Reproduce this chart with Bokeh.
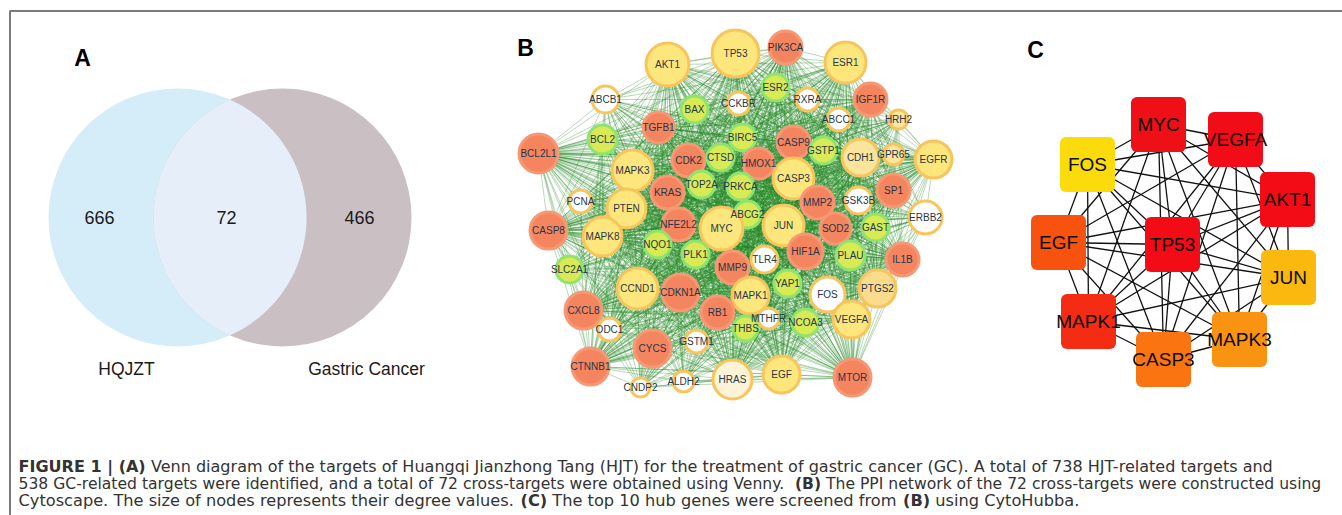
import numpy as np
from bokeh.plotting import figure
from bokeh.models import Range1d, ColumnDataSource
from bokeh.core.properties import value
from bokeh.embed import file_html
from bokeh.resources import INLINE

# ---------------- data ----------------
# Panel A: Venn diagram
venn_sets = ["HQJZT", "Gastric Cancer"]
venn_only = [666, 466]
venn_shared = 72

# Panel B: PPI network of the 72 cross-targets (layout)
ppi_genes = ["AKT1", "TP53", "PIK3CA", "ESR1", "ABCB1", "BAX", "CCKBR", "ESR2", "RXRA", "IGF1R",
             "ABCC1", "HRH2", "TGFB1", "BCL2", "BIRC5", "BCL2L1", "CASP9", "GSTP1", "CDH1", "GPR65",
             "EGFR", "CDK2", "CTSD", "HMOX1", "MAPK3", "KRAS", "TOP2A", "PRKCA", "CASP3", "SP1",
             "MMP2", "GSK3B", "PCNA", "PTEN", "NFE2L2", "ABCG2", "JUN", "SOD2", "GAST", "ERBB2",
             "CASP8", "MAPK8", "MYC", "NQO1", "PLK1", "TLR4", "HIF1A", "PLAU", "IL1B", "SLC2A1",
             "MMP9", "YAP1", "FOS", "PTGS2", "CCND1", "CDKN1A", "MAPK1", "CXCL8", "RB1", "THBS",
             "MTHFR", "NCOA3", "VEGFA", "ODC1", "GSTM1", "CYCS", "CTNNB1", "CNDP2", "ALDH2", "HRAS",
             "EGF", "MTOR"]
ppi_x = [667, 735, 785, 845, 605, 694, 738, 775, 807, 870,
         838, 898, 658, 602, 742, 538, 793, 823, 860, 893,
         933, 688, 720, 758, 632, 667, 701, 740, 793, 893,
         817, 858, 580, 626, 678, 747, 783, 835, 875, 925,
         548, 602, 721, 657, 695, 764, 805, 850, 902, 569,
         732, 787, 827, 877, 637, 680, 750, 583, 717, 745,
         768, 805, 851, 609, 696, 652, 590, 640, 683, 732,
         781, 852]
ppi_y = [64, 53, 47, 62, 99, 109, 103, 87, 99, 99,
         119, 119, 127, 139, 137, 153, 142, 150, 157, 154,
         159, 160, 157, 163, 170, 192, 184, 186, 178, 190,
         202, 200, 201, 208, 224, 214, 225, 228, 227, 217,
         230, 236, 228, 244, 254, 259, 251, 255, 259, 269,
         267, 283, 294, 288, 288, 292, 295, 310, 312, 328,
         318, 322, 319, 329, 341, 348, 366, 387, 381, 379,
         374, 377]
ppi_size = [23, 25, 18, 22, 15, 15, 13, 15, 13, 18,
            13, 11, 17, 16, 15, 21, 18, 15, 20, 12,
            20, 18, 15, 17, 22, 18, 15, 15, 22, 18,
            18, 15, 13, 21, 18, 15, 22, 17, 15, 18,
            20, 21, 23, 15, 15, 15, 19, 16, 18, 15,
            18, 15, 19, 20, 22, 20, 20, 20, 18, 14,
            12, 15, 20, 13, 13, 20, 20, 11, 12, 21,
            20, 20]
ppi_class = ["Y", "Y", "R", "Y", "W", "G", "W", "G", "W", "R",
             "W", "P", "R", "G", "G", "R", "R", "G", "P", "P",
             "Y", "R", "G", "R", "Y", "R", "G", "G", "Y", "R",
             "R", "W", "W", "Y", "R", "G", "Y", "R", "G", "W",
             "R", "Y", "Y", "G", "G", "W", "R", "G", "R", "G",
             "R", "G", "W", "O", "Y", "R", "Y", "R", "R", "G",
             "W", "G", "Y", "W", "W", "R", "R", "W", "W", "H",
             "Y", "R"]
ppi_hubs = ["AKT1", "TP53", "MYC", "JUN", "CASP3", "MAPK3", "VEGFA", "EGF", "EGFR", "ESR1",
            "PTEN", "CCND1", "MAPK1", "MAPK8", "HRAS", "PTGS2", "CDH1", "MTOR", "BCL2L1", "CASP8",
            "CXCL8", "CTNNB1", "IL1B", "HIF1A", "MMP9", "CDKN1A", "SP1", "IGF1R", "PIK3CA",
            "KRAS", "TGFB1", "CDK2", "CASP9", "MMP2"]

# Panel C: top 10 hub genes (CytoHubba)
hub_genes = ["MYC", "VEGFA", "FOS", "AKT1", "EGF", "TP53", "JUN", "MAPK1", "CASP3", "MAPK3"]
hub_x = [1158, 1235, 1087, 1287, 1058, 1172, 1288, 1088, 1163, 1239]
hub_y = [124, 139, 164, 199, 242, 244, 277, 321, 359, 339]
hub_colors = ["#ee1016", "#f20c17", "#fbdb0c", "#f30c16", "#f8520f",
              "#f30c16", "#fbb80e", "#f52c14", "#fb7412", "#fb9312"]

# Caption: list of lines, each a list of (bold, text) runs
caption_lines = [
    [(True, "FIGURE 1 | (A)"),
     (False, "Venn diagram of the targets of Huangqi Jianzhong Tang (HJT) for the treatment of gastric cancer (GC). A total of 738 HJT-related targets and")],
    [(False, "538 GC-related targets were identified, and a total of 72 cross-targets were obtained using Venny."),
     (True, "(B)"),
     (False, "The PPI network of the 72 cross-targets were constructed using")],
    [(False, "Cytoscape. The size of nodes represents their degree values."),
     (True, "(C)"),
     (False, "The top 10 hub genes were screened from"),
     (True, "(B)"),
     (False, "using CytoHubba.")],
]
caption_line_y = [466, 483, 500]
caption_line_end = [1280, 1322, 1079]

# ---------------- text width helper (DejaVu Sans metrics, em units) ----------------
_REG = {" ": .318, "(": .390, ")": .390, ",": .318, "-": .361, ".": .318, "|": .337,
        "A": .684, "B": .686, "C": .698, "D": .770, "E": .632, "F": .575, "G": .775, "H": .752,
        "I": .295, "J": .295, "K": .656, "L": .557, "M": .863, "N": .748, "O": .787, "P": .603,
        "Q": .787, "R": .695, "S": .635, "T": .611, "U": .732, "V": .684, "W": .989, "X": .685,
        "Y": .611, "Z": .685,
        "a": .613, "b": .635, "c": .550, "d": .635, "e": .615, "f": .352, "g": .635, "h": .634,
        "i": .278, "j": .278, "k": .579, "l": .278, "m": .974, "n": .634, "o": .612, "p": .635,
        "q": .635, "r": .411, "s": .521, "t": .392, "u": .634, "v": .592, "w": .818, "x": .592,
        "y": .592, "z": .525}
_BOLD = {" ": .348, "(": .457, ")": .457, "|": .366, "A": .774, "B": .762, "C": .734, "E": .683,
         "F": .683, "G": .821, "I": .372, "R": .770, "U": .812}


def text_em(txt, bold):
    tab = _BOLD if bold else _REG
    dig = .696 if bold else .636
    return sum(tab.get(ch, dig if ch.isdigit() else .6) for ch in txt)


# ---------------- figure ----------------
FONT = value("Liberation Sans")
CAP_FONT = value("DejaVu Sans")
W, H = 1342, 515
p = figure(width=W, height=H, x_range=Range1d(0, W), y_range=Range1d(H, 0),
           output_backend="svg", toolbar_location=None, min_border=0,
           x_axis_type=None, y_axis_type=None)
p.grid.visible = False
p.outline_line_color = None
p.background_fill_color = "white"

# frame
p.line(x=[9.5, 9.5, 1342], y=[515, 10.5, 10.5], line_color="#7a7a7a", line_width=2)

# ---- Panel A ----
cx = [177, 282]
cy = 217
R = 129
p.circle(x=[cx[0]], y=[cy], radius=R, fill_color="#d5edf9", line_color=None)
p.circle(x=[cx[1]], y=[cy], radius=R, fill_color="#cac0c4", line_color=None)
d = cx[1] - cx[0]
th = np.arccos((d / 2) / R)
t1 = np.linspace(-th, th, 120)
t2 = np.linspace(np.pi - th, np.pi + th, 120)
lx = np.concatenate([cx[0] + R * np.cos(t1), cx[1] + R * np.cos(t2)])
ly = np.concatenate([cy + R * np.sin(t1), cy + R * np.sin(t2)])
p.patch(lx, ly, fill_color="#e5eef9", line_color=None)

p.text(x=[99, 226, 359], y=[cy, cy, cy],
       text=[str(venn_only[0]), str(venn_shared), str(venn_only[1])],
       text_font=FONT, text_font_size="18px", text_align="center", text_baseline="middle",
       text_color="#1a1a1a")
p.text(x=[126, 366], y=[368, 368], text=venn_sets, text_font=FONT, text_font_size="17.5px",
       text_align="center", text_baseline="middle", text_color="#1a1a1a")

# panel letters
p.text(x=[82, 525, 1035], y=[57, 47, 49], text=["A", "B", "C"], text_font=FONT,
       text_font_size="23px", text_font_style="bold", text_align="center",
       text_baseline="middle", text_color="black")

# ---- Panel B ----
idx = {g: i for i, g in enumerate(ppi_genes)}
seen = set()
ex0, ey0, ex1, ey1 = [], [], [], []
for h in ppi_hubs:
    for g in ppi_genes:
        if g == h:
            continue
        key = tuple(sorted((g, h)))
        if key in seen:
            continue
        seen.add(key)
        ex0.append(ppi_x[idx[h]]); ey0.append(ppi_y[idx[h]])
        ex1.append(ppi_x[idx[g]]); ey1.append(ppi_y[idx[g]])
p.segment(x0=ex0, y0=ey0, x1=ex1, y1=ey1, line_color="#268a26", line_alpha=0.55, line_width=0.6)

fill_map = {"Y": "#fde67b", "R": "#f5855f", "G": "#d9ea55", "W": "#ffffff",
            "P": "#fbe49c", "O": "#fadc8c", "H": "#fdf3d6"}
line_map = {"Y": "#f8c55c", "R": "#f79874", "G": "#8fe36f", "W": "#f8c55c",
            "P": "#f8c55c", "O": "#f8c55c", "H": "#f8c55c"}
src_b = ColumnDataSource(dict(
    x=ppi_x, y=ppi_y, r=[s - 1.5 for s in ppi_size], name=ppi_genes,
    fill=[fill_map[c] for c in ppi_class], edge=[line_map[c] for c in ppi_class]))
p.circle(x="x", y="y", radius="r", source=src_b, fill_color="fill", line_color="edge", line_width=3)
p.text(x="x", y="y", text="name", source=src_b, text_font=FONT, text_font_size="10px",
       text_align="center", text_baseline="middle", text_color="#26364a")

# ---- Panel C ----
cx0, cy0, cx1, cy1 = [], [], [], []
for i in range(len(hub_genes)):
    for j in range(i + 1, len(hub_genes)):
        cx0.append(hub_x[i]); cy0.append(hub_y[i])
        cx1.append(hub_x[j]); cy1.append(hub_y[j])
p.segment(x0=cx0, y0=cy0, x1=cx1, y1=cy1, line_color="#111111", line_width=1.3)
src_c = ColumnDataSource(dict(x=hub_x, y=hub_y, name=hub_genes, fill=hub_colors))
p.rect(x="x", y="y", width=55, height=55, source=src_c, fill_color="fill", line_color=None,
       border_radius=6)
p.text(x="x", y="y", text="name", source=src_c, text_font=FONT, text_font_size="19px",
       text_align="center", text_baseline="middle", text_color="#0a0a0a")

# ---- Caption ----
x_start = 18
for li, runs in enumerate(caption_lines):
    total_em = sum(text_em(t, b) for b, t in runs) + 0.318 * (len(runs) - 1)
    size = (caption_line_end[li] - x_start) / total_em
    size = min(max(size, 15.0), 16.6)
    xc = x_start
    for b, t in runs:
        p.text(x=[xc], y=[caption_line_y[li]], text=[t],
               text_font=CAP_FONT, text_font_size=f"{size:.2f}px",
               text_font_style="bold" if b else "normal",
               text_align="left", text_baseline="middle", text_color="#333333")
        xc += (text_em(t, b) + 0.318) * size

open("out.html", "w").write(file_html(p, INLINE))
